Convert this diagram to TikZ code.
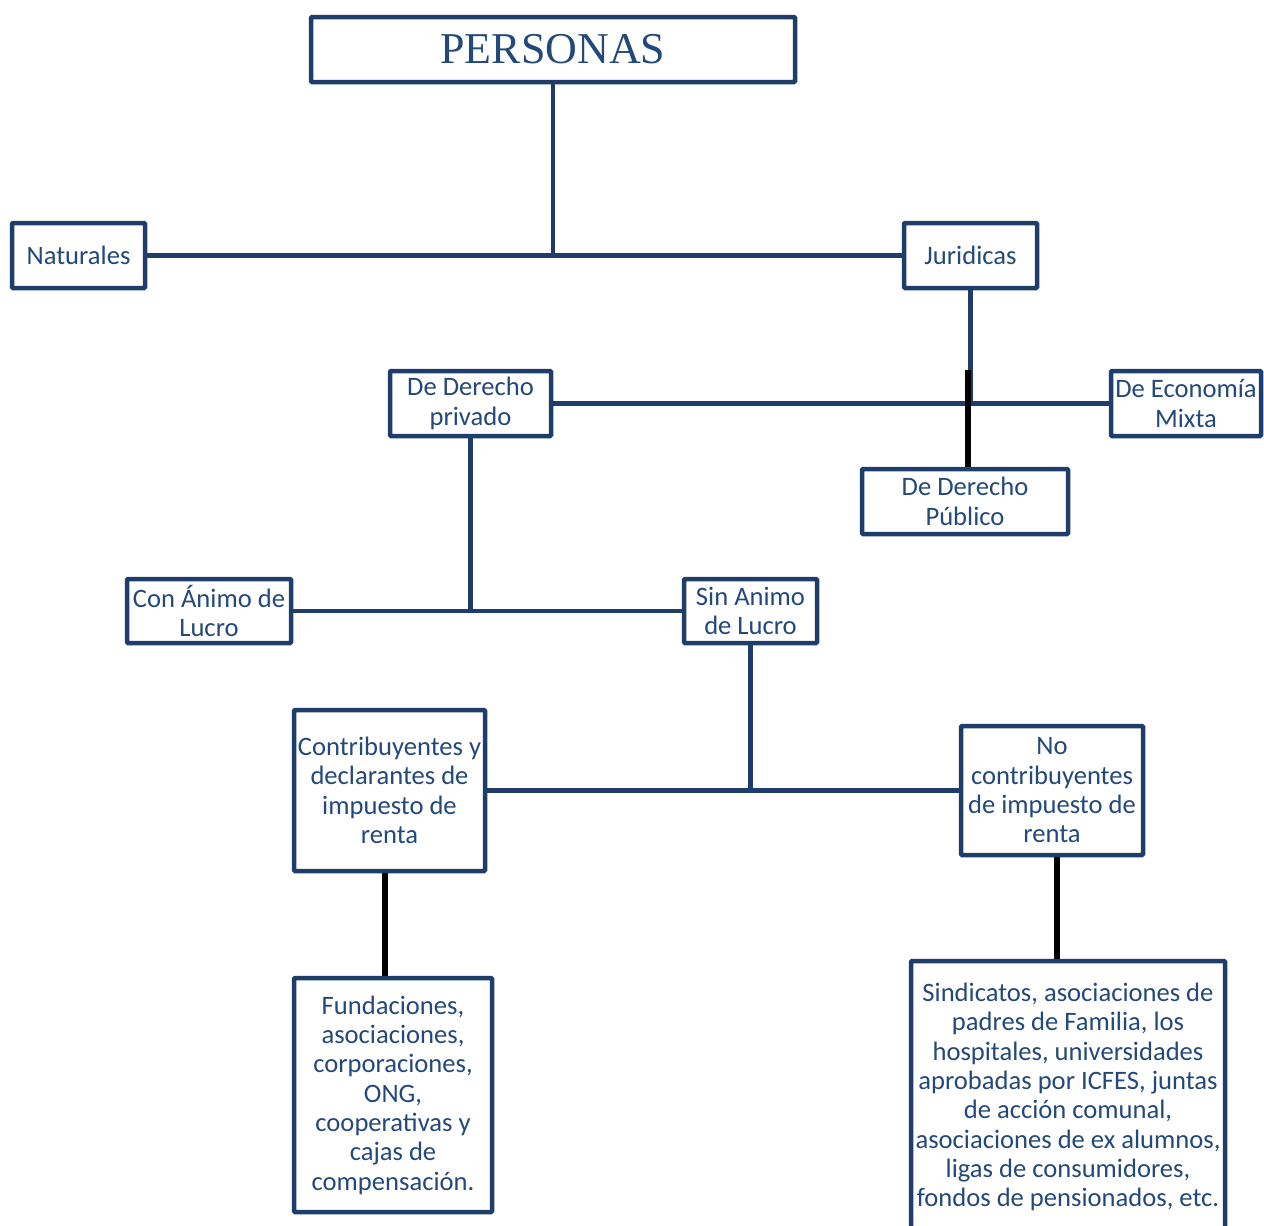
\documentclass[tikz,border=0pt]{standalone}
\usepackage{fontspec}
\setmainfont{Carlito}
\newfontfamily\titlefont{Liberation Serif}
\usetikzlibrary{positioning}
\definecolor{boxline}{HTML}{1F3D6B}
\definecolor{boxtext}{HTML}{23487A}

\begin{document}
\begin{tikzpicture}[x=1pt,y=-1pt,
  caja/.style={draw=boxline,line width=4.5pt,rounded corners=1pt,text=boxtext,
    align=center,inner sep=0pt,font=\fontsize{26.6}{29.3}\selectfont},
  enlace/.style={draw=boxline,line width=4.5pt},
  enlacenegro/.style={draw=black,line width=5.5pt}]
  \useasboundingbox (0,0) rectangle (1264,1226);
  % cajas
  \node[caja,minimum width=484pt,minimum height=65pt,
    font=\titlefont\fontsize{44}{50}\selectfont] (personas) at (553,49.5) {PERSONAS};
  \node[caja,minimum width=133pt,minimum height=65pt] (naturales) at (78.5,255.5) {Naturales};
  \node[caja,minimum width=133pt,minimum height=65pt] (juridicas) at (970.5,255.5) {Juridicas};
  \node[caja,minimum width=161pt,minimum height=65pt] (privado) at (470.5,403.5) {De Derecho\\privado};
  \node[caja,minimum width=150pt,minimum height=65pt] (mixta) at (1186,403.5) {De Economía\\Mixta};
  \node[caja,minimum width=206pt,minimum height=65pt] (publico) at (965,501.5) {De Derecho\\Público};
  \node[caja,minimum width=164pt,minimum height=64pt] (conlucro) at (209,611) {Con Ánimo de\\Lucro};
  \node[caja,minimum width=133pt,minimum height=64pt] (sinlucro) at (750.5,611) {Sin Animo\\de Lucro};
  \node[caja,minimum width=191pt,minimum height=161pt] (contrib) at (389.5,790.5)
    {Contribuyentes y\\declarantes de\\impuesto de\\renta};
  \node[caja,minimum width=182pt,minimum height=129pt] (nocontrib) at (1052,790.5)
    {No\\contribuyentes\\de impuesto de\\renta};
  \node[caja,minimum width=198pt,minimum height=234pt] (fundaciones) at (393,1095)
    {Fundaciones,\\asociaciones,\\corporaciones,\\ONG,\\cooperativas y\\cajas de\\compensación.};
  \node[caja,minimum width=314pt,minimum height=272pt] (sindicatos) at (1068,1097)
    {Sindicatos, asociaciones de\\padres de Familia, los\\hospitales, universidades\\aprobadas por ICFES, juntas\\de acción comunal,\\asociaciones de ex alumnos,\\ligas de consumidores,\\fondos de pensionados, etc.};
  % conectores
  \draw[enlace] (personas.south) -- (personas.south |- naturales.east);
  \draw[enlace] (naturales.east) -- (juridicas.west);
  \draw[enlace] (juridicas.south) -- (juridicas.south |- privado.east);
  \draw[enlace] (privado.east) -- (mixta.west);
  \coordinate (cruce) at (968,370);
  \draw[enlacenegro] (cruce) -- (cruce |- publico.north);
  \draw[enlace] (privado.south) -- (privado.south |- conlucro.east);
  \draw[enlace] (conlucro.east) -- (sinlucro.west);
  \draw[enlace] (sinlucro.south) -- (sinlucro.south |- contrib.east);
  \draw[enlace] (contrib.east) -- (nocontrib.west);
  \draw[enlacenegro] ([xshift=-4.5pt]contrib.south) -- ([xshift=-4.5pt]contrib.south |- fundaciones.north);
  \draw[enlacenegro] ([xshift=5pt]nocontrib.south) -- ([xshift=5pt]nocontrib.south |- sindicatos.north);
\end{tikzpicture}
\end{document}
